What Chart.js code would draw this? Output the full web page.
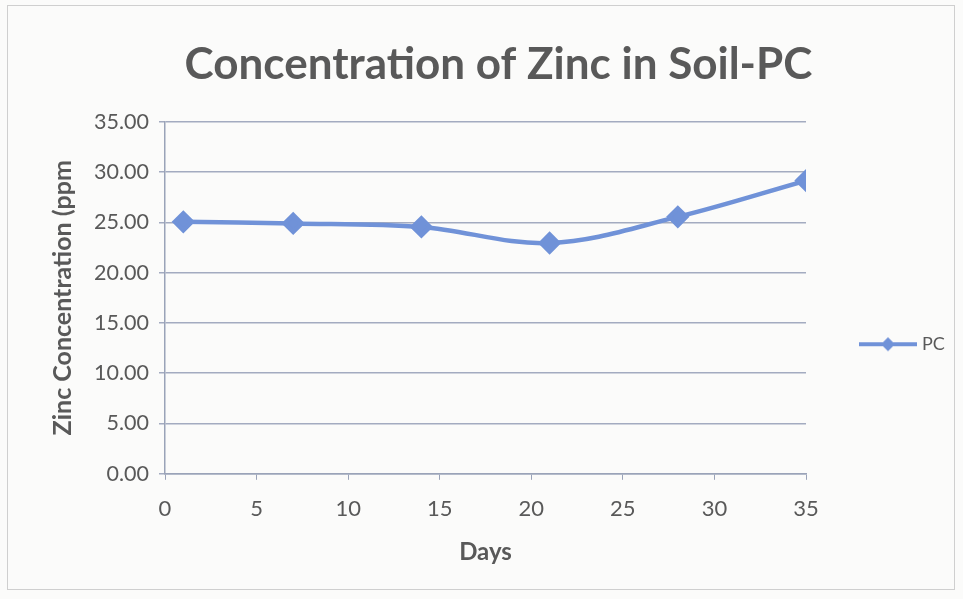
<!DOCTYPE html>
<html>
<head>
<meta charset="utf-8">
<script src="https://cdn.jsdelivr.net/npm/chart.js@4.4.0/dist/chart.umd.min.js"></script>
<style>
  html, body { margin: 0; padding: 0; background: #fbfbfa; }
  #wrap { position: relative; width: 963px; height: 599px; }
  #frame { position: absolute; left: 7px; top: 5px; width: 946px; height: 583px; border: 1px solid #cfcfcf; pointer-events: none; }
</style>
</head>
<body>
<div id="wrap">
  <canvas id="zincChart" width="963" height="599"></canvas>
  <div id="frame"></div>
</div>
<script>
// data
const days = [1, 7, 14, 21, 28, 35];
const pcValues = [25.05, 24.9, 24.55, 22.95, 25.55, 29.15];
const yTicks = [0, 5, 10, 15, 20, 25, 30, 35];
const xTicks = [0, 5, 10, 15, 20, 25, 30, 35];

const textGrey = "#595959";
const lineBlue = "#7092d8";
const fontName = "Lato, 'Open Sans', sans-serif";

// legend swatch: line with a diamond in the middle, like the Excel legend
const swatch = document.createElement("canvas");
swatch.width = 58;
swatch.height = 16;
(() => {
  const s = swatch.getContext("2d");
  s.strokeStyle = lineBlue;
  s.lineWidth = 4;
  s.beginPath();
  s.moveTo(0, 8);
  s.lineTo(58, 8);
  s.stroke();
  s.fillStyle = lineBlue;
  s.beginPath();
  s.moveTo(29, 1);
  s.lineTo(36, 8);
  s.lineTo(29, 15);
  s.lineTo(22, 8);
  s.closePath();
  s.fill();
})();

const ctx = document.getElementById("zincChart").getContext("2d");

new Chart(ctx, {
  type: "line",
  data: {
    datasets: [
      {
        label: "PC",
        data: days.map((d, i) => ({ x: d, y: pcValues[i] })),
        borderColor: lineBlue,
        backgroundColor: lineBlue,
        borderWidth: 4.5,
        tension: 0.35,
        pointStyle: "rectRot",
        pointRadius: 8.5,
        pointHoverRadius: 8.5,
        pointBackgroundColor: lineBlue,
        pointBorderColor: lineBlue,
      },
    ],
  },
  options: {
    responsive: false,
    animation: false,
    layout: { padding: { left: 44, right: 10, top: 38, bottom: 29 } },
    plugins: {
      title: {
        display: true,
        text: "Concentration of Zinc in Soil-PC",
        color: textGrey,
        font: { family: fontName, size: 44, weight: "bold" },
        padding: { top: 0, bottom: 31 },
      },
      legend: {
        position: "right",
        maxWidth: 147,
        title: { display: true, text: "", padding: 33 },
        labels: {
          usePointStyle: true,
          pointStyleWidth: 50,
          color: textGrey,
          font: { family: fontName, size: 18 },
          padding: 57,
          generateLabels: (chart) => {
            const items = Chart.defaults.plugins.legend.labels.generateLabels(chart);
            items.forEach((it) => { it.pointStyle = swatch; });
            return items;
          },
        },
      },
      tooltip: { enabled: false },
    },
    scales: {
      x: {
        type: "linear",
        min: 0,
        max: 35,
        afterBuildTicks: (axis) => { axis.ticks = xTicks.map((v) => ({ value: v })); },
        ticks: { color: textGrey, font: { family: fontName, size: 22 }, padding: 16 },
        grid: { drawOnChartArea: false, drawTicks: true, tickLength: 6, color: "#9aa3b8" },
        border: { color: "#9aa3b8", width: 1.5 },
        title: {
          display: true,
          text: "Days",
          color: textGrey,
          font: { family: fontName, size: 24, weight: "bold" },
          padding: { top: 0, bottom: 3 },
        },
      },
      y: {
        min: 0,
        max: 35,
        afterBuildTicks: (axis) => { axis.ticks = yTicks.map((v) => ({ value: v })); },
        afterFit: (axis) => { axis.width = 121; },
        ticks: {
          color: textGrey,
          font: { family: fontName, size: 21.5 },
          padding: 10,
          callback: (v) => v.toFixed(2),
        },
        grid: { color: "#a3abc0", lineWidth: 1.5, tickLength: 6 },
        border: { color: "#9aa3b8", width: 1.5 },
        title: {
          display: true,
          text: "Zinc Concentration (ppm",
          color: textGrey,
          font: { family: fontName, size: 25, weight: "bold" },
          padding: { top: 4, bottom: 6 },
        },
      },
    },
  },
});
</script>
</body>
</html>
